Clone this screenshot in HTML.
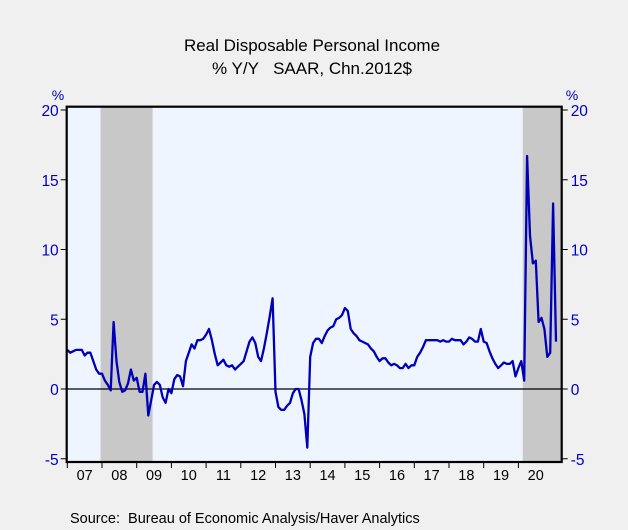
<!DOCTYPE html>
<html><head><meta charset="utf-8"><style>
body{margin:0;background:#f0f0f0;}
svg{display:block;font-family:"Liberation Sans",sans-serif;}
</style></head><body>
<svg id="chart" width="628" height="530">
<rect x="0" y="0" width="628" height="530" fill="#f0f0f0"/>
<text x="312" y="51" text-anchor="middle" font-size="17" fill="#000">Real Disposable Personal Income</text>
<text x="312" y="74" text-anchor="middle" font-size="17" fill="#000">% Y/Y&#160;&#160;&#160;SAAR, Chn.2012$</text>
<g id="plot"></g>
<text x="70" y="523" font-size="14.5" fill="#000">Source:&#160;&#160;Bureau of Economic Analysis/Haver Analytics</text>
</svg>
<script>
const years=["07","08","09","10","11","12","13","14","15","16","17","18","19","20"];
const yTicks=[-5,0,5,10,15,20];
const recessions=[[11.5,29.5],[157.5,171]];
const values=[
2.8,2.6,2.7,2.8,2.8,2.8,2.4,2.6,2.6,2.0,1.4,1.1,
1.1,0.6,0.3,-0.1,4.8,2.0,0.5,-0.2,-0.1,0.4,1.4,0.6,
0.8,-0.2,-0.2,1.1,-1.9,-0.8,0.3,0.5,0.3,-0.6,-1.0,0.0,
-0.3,0.7,1.0,0.9,0.2,2.0,2.6,3.2,2.9,3.5,3.5,3.6,
3.9,4.3,3.5,2.5,1.7,1.9,2.1,1.7,1.6,1.7,1.4,1.6,
1.8,2.0,2.7,3.4,3.7,3.3,2.3,2.0,2.9,4.0,5.2,6.5,
-0.2,-1.3,-1.5,-1.5,-1.2,-1.0,-0.3,0.0,0.0,-0.8,-1.8,-4.2,
2.3,3.3,3.6,3.6,3.3,3.8,4.2,4.4,4.5,5.0,5.1,5.3,
5.8,5.6,4.3,4.0,3.8,3.5,3.4,3.3,3.2,2.9,2.7,2.3,
2.0,2.2,2.2,1.9,1.7,1.8,1.7,1.5,1.5,1.8,1.5,1.7,
1.7,2.3,2.6,3.0,3.5,3.5,3.5,3.5,3.5,3.4,3.5,3.4,
3.4,3.6,3.5,3.5,3.5,3.2,3.4,3.7,3.6,3.4,3.4,4.3,
3.4,3.3,2.7,2.2,1.8,1.5,1.7,1.9,1.8,1.8,2.0,0.9,
1.5,2.0,0.6,16.7,11.0,9.0,9.2,4.8,5.1,4.3,2.3,2.6,
13.3,3.4];
const L=66.7,R=561.7,T=106.7,B=462;
const x=i=>67.3+i*34.7/12;
const y=v=>389-v*13.95;
const NS="http://www.w3.org/2000/svg";
const g=document.getElementById('plot');
function mk(tag,attrs){const e=document.createElementNS(NS,tag);for(const k in attrs)e.setAttribute(k,attrs[k]);g.appendChild(e);return e;}
let e=mk('rect',{x:L,y:T,width:R-L,height:B-T,fill:'#eef5ff'});


recessions.forEach(r=>{
 const x0=Math.max(L,x(r[0])),x1=Math.min(R,x(r[1]));
 const s=mk('rect',{x:x0,y:T,width:x1-x0,height:B-T,fill:'#c8c8c8'});
 
 
});
e=mk('line',{x1:L,x2:R,y1:y(0),y2:y(0),stroke:'#000','stroke-width':1.2});


const pts=values.map((v,i)=>x(i).toFixed(1)+','+y(v).toFixed(1)).join(' ');
e=mk('polyline',{points:pts,fill:'none',stroke:'#0000b8','stroke-width':2.3,'stroke-linejoin':'round'});


e=mk('rect',{x:L,y:T,width:R-L,height:B-T,fill:'none',stroke:'#000','stroke-width':2.2});


yTicks.forEach(t=>{
 const yy=y(t);
 let a=mk('line',{x1:L-6,x2:L,y1:yy,y2:yy,stroke:'#000','stroke-width':1});
 
 
 a=mk('line',{x1:R,x2:R+6,y1:yy,y2:yy,stroke:'#000','stroke-width':1});
 
 
 let tx=mk('text',{x:L-8,y:yy+6,'text-anchor':'end','font-size':15.5,fill:'#0000c0'});
 tx.textContent=t;
 
 
 tx=mk('text',{x:R+9,y:yy+6,'text-anchor':'start','font-size':15.5,fill:'#0000c0'});
 tx.textContent=t;
 
 
});
let p=mk('text',{x:58,y:100,'text-anchor':'middle','font-size':14,fill:'#0000c0'});p.textContent='%';


p=mk('text',{x:572,y:100,'text-anchor':'middle','font-size':14,fill:'#0000c0'});p.textContent='%';


years.forEach((yr,k)=>{
 const xx=x(k*12);
 const t=mk('line',{x1:xx,x2:xx,y1:B,y2:B+6,stroke:'#000','stroke-width':1});
 
 
 const tx=mk('text',{x:x(k*12+6),y:B+18,'text-anchor':'middle','font-size':14.5,fill:'#000'});
 tx.textContent=yr;
 
 
});
</script>
</body></html>
